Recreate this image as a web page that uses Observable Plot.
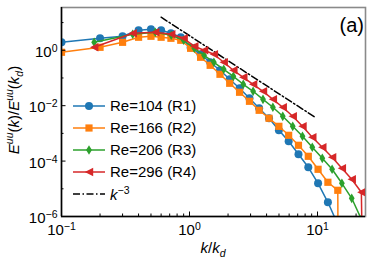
<!DOCTYPE html>
<html><head><meta charset="utf-8">
<script src="https://cdn.jsdelivr.net/npm/d3@7"></script>
<script src="https://cdn.jsdelivr.net/npm/@observablehq/plot@0.6"></script>
<style>html,body{margin:0;padding:0;background:#fff;} #chart{width:374px;height:266px;}</style>
</head><body><div id="chart"></div>
<script>
// ---- data ----
const xDomain = [0.1, 23.7];
const yDomain = [1e-6, 35];
const xMajor = [0.1, 1, 10];
const xMinor = [0.2,0.3,0.4,0.5,0.6,0.7,0.8,0.9,2,3,4,5,6,7,8,9,20];
const yMajor = [1e-6, 1e-4, 1e-2, 1];
const yMinor = [1e-5, 1e-3, 1e-1, 10];
const xTickLabels = ["10^−1", "10^0", "10^1"];
const yTickLabels = ["10^−6", "10^−4", "10^−2", "10^0"];

const seriesNames = ["Re=104 (R1)", "Re=166 (R2)", "Re=206 (R3)", "Re=296 (R4)"];
const seriesColors = ["#1f77b4", "#ff7f0e", "#2ca02c", "#d62728"];

const kBlue = [0.1,0.2,0.3,0.4,0.5,0.6,0.716,0.854,1.02,1.22,1.45,1.73,2.06,2.46,2.94,3.5,4.18,4.99,5.95,7.1,8.47,10.1,12.05,14.4];
const eBlue = [1.94,2.71,3.2,5.27,5.73,5.27,4.11,2.95,1.25,0.717,0.369,0.19,0.0897,0.0425,0.0185,0.00805,0.00351,0.00129,0.000519,0.000176,5.97e-5,1.58e-5,3.26e-6,5.2e-7];

const kOrange = [0.1,0.2,0.3,0.4,0.5,0.6,0.716,0.854,1.02,1.22,1.45,1.73,2.06,2.46,2.94,3.5,4.18,4.99,5.95,7.1,8.47,10.1,12.05,14.4,14.6];
const eOrange = [0.847,1.28,1.94,2.95,3.2,2.95,2.71,2.3,1.18,0.559,0.287,0.136,0.0644,0.0305,0.0144,0.00682,0.00351,0.0018,0.000853,0.000372,0.000149,5.06e-5,1.72e-5,8.83e-6,1e-12];

const kGreen = [0.18,0.36,0.54,0.72,0.9,1.09,1.3,1.55,1.85,2.2,2.63,3.14,3.75,4.48,5.35,6.4,7.63,9.1,10.9,13.0,15.5,18.5,22];
const eGreen = [1.94,3.78,4.47,3.48,2.3,1.18,0.66,0.369,0.206,0.115,0.0593,0.0331,0.017,0.00875,0.00414,0.0018,0.000786,0.000315,0.000126,5.06e-5,1.58e-5,4.54e-6,8e-7];

const kRed = [0.18,0.36,0.54,0.72,0.9,1.09,1.3,1.55,1.85,2.2,2.63,3.14,3.75,4.48,5.35,6.4,7.63,9.1,10.9,13.0,15.5,18.5,22,23.2];
const eRed = [1.28,4.11,4.47,3.78,2.71,1.39,1.0,0.717,0.369,0.19,0.106,0.0593,0.0331,0.017,0.00875,0.00414,0.0018,0.000723,0.000315,0.000137,5.5e-5,2.2e-5,7.48e-6,1e-12];

const refK = [0.6, 9.5];
const refE = [15.6, 0.0039];

// ---- symbols ----
const triLeft = {draw(ctx, size){ const h = Math.sqrt(size/Math.PI); ctx.moveTo(-h,0); ctx.lineTo(h,-h); ctx.lineTo(h,h); ctx.closePath(); }};
const thinDiamond = {draw(ctx, size){ const h = Math.sqrt(size/Math.PI)*1.15; ctx.moveTo(0,-h); ctx.lineTo(h*0.6,0); ctx.lineTo(0,h); ctx.lineTo(-h*0.6,0); ctx.closePath(); }};
const squareSym = {draw(ctx, size){ const h = Math.sqrt(size/Math.PI)*0.9; ctx.rect(-h,-h,2*h,2*h); }};
const circleSym = {draw(ctx, size){ const h = Math.sqrt(size/Math.PI); ctx.moveTo(h,0); ctx.arc(0,0,h,0,2*Math.PI); }};
const symbols = [circleSym, squareSym, thinDiamond, triLeft];
const radii = [4, 4, 4.2, 4.2];

const series = [[kBlue,eBlue],[kOrange,eOrange],[kGreen,eGreen],[kRed,eRed]].map(([k,e],i)=>k.map((kk,j)=>({k:kk,e:e[j],s:i})));
const ref = refK.map((k,i)=>({k, e: refE[i]}));

const marks = [Plot.frame({stroke:"#8a8a8a", strokeWidth: 1.6})];
marks.push(Plot.line(ref, {x:"k", y:"e", stroke:"black", strokeWidth:1.5, strokeDasharray:"7,2.5,1.5,2.5", clip:true}));
series.forEach((d,i)=>{
  marks.push(Plot.line(d, {x:"k", y:"e", stroke: seriesColors[i], strokeWidth:1.5, clip:true}));
  marks.push(Plot.dot(d, {x:"k", y:"e", fill: seriesColors[i], stroke: "none", symbol: symbols[i], r: radii[i], clip:true}));
});
marks.push(Plot.ruleX([xDomain[0]], {stroke:"black", strokeWidth:1.5}));
marks.push(Plot.ruleY([yDomain[0]], {stroke:"black", strokeWidth:1.5}));
marks.push(Plot.axisX({ticks: xMajor, tickSize: -4.5, tickFormat: () => "", label: null}));
marks.push(Plot.axisX({ticks: xMinor, tickSize: -2.5, tickFormat: () => "", label: null}));
marks.push(Plot.axisY({ticks: yMajor, tickSize: -4.5, tickFormat: () => "", label: null}));
marks.push(Plot.axisY({ticks: yMinor, tickSize: -2.5, tickFormat: () => "", label: null}));
marks.push(Plot.axisX({ticks: xMajor, tickSize: 0, tickPadding: 8, tickFormat: d => xTickLabels[xMajor.indexOf(d)], label: null}));
marks.push(Plot.axisY({ticks: yMajor, tickSize: 0, tickPadding: 4, dy: 2, tickFormat: d => yTickLabels[yMajor.indexOf(d)], label: null}));

const svg = Plot.plot({
  width: 374, height: 266,
  marginLeft: 61, marginRight: 9, marginTop: 7, marginBottom: 50,
  x: {type: "log", domain: xDomain},
  y: {type: "log", domain: yDomain},
  style: {fontFamily: "'Liberation Sans', Arial, sans-serif", fontSize: "15px", background: "white", color: "black", overflow: "visible"},
  marks
});
document.getElementById("chart").appendChild(svg);

const NS = "http://www.w3.org/2000/svg";
// superscripts in tick labels
svg.querySelectorAll("text").forEach(t => {
  const s = t.textContent; const i = s.indexOf("^");
  if (i < 0) return;
  t.textContent = "";
  const a = document.createElementNS(NS, "tspan"); a.textContent = s.slice(0, i); t.appendChild(a);
  const b = document.createElementNS(NS, "tspan"); b.textContent = s.slice(i+1);
  b.setAttribute("dy", "-0.5em"); b.setAttribute("font-size", "10.5px"); t.appendChild(b);
});

function rich(parent, parts, attrs) {
  const t = document.createElementNS(NS, "text");
  for (const k in attrs) t.setAttribute(k, attrs[k]);
  let cur = 0;
  parts.forEach(p => {
    const sp = document.createElementNS(NS, "tspan");
    sp.textContent = p.t;
    const shift = p.sup ? -6 : p.sub ? 4 : 0;
    if (shift !== cur) { sp.setAttribute("dy", shift - cur); cur = shift; }
    if (p.sup || p.sub) sp.setAttribute("font-size", "10.5px");
    if (p.it) sp.setAttribute("font-style", "italic");
    t.appendChild(sp);
  });
  parent.appendChild(t);
  return t;
}

const g = d3.select(svg).append("g").attr("font-family", "'Liberation Sans', Arial, sans-serif").attr("font-size", 15).attr("fill", "black").attr("text-anchor", "start");
// axis titles
rich(g.node(), [{t:"E",it:1},{t:"uu",it:1,sup:1},{t:"(",},{t:"k",it:1},{t:")/"},{t:"E",it:1},{t:"uu",it:1,sup:1},{t:"("},{t:"k",it:1},{t:"d",it:1,sub:1},{t:")"}],
  {"text-anchor":"middle", transform:"translate(19,110) rotate(-90)"});
rich(g.node(), [{t:"k",it:1},{t:"/"},{t:"k",it:1},{t:"d",it:1,sub:1}], {"text-anchor":"middle", x:213, y:253});
g.append("text").attr("x", 364).attr("y", 32).attr("text-anchor", "end").attr("font-size", 20).text("(a)");

// legend
const rowY = [106, 128, 150, 172, 194];
seriesNames.forEach((name, i) => {
  const y = rowY[i];
  g.append("line").attr("x1", 73).attr("x2", 105).attr("y1", y).attr("y2", y).attr("stroke", seriesColors[i]).attr("stroke-width", 1.5);
  g.append("path").attr("transform", `translate(89,${y})`).attr("fill", seriesColors[i])
    .attr("d", d3.symbol().type(symbols[i]).size(Math.PI * radii[i] * radii[i])());
  g.append("text").attr("x", 110).attr("y", y).attr("dy", "0.36em").attr("text-anchor", "start").text(name);
});
g.append("line").attr("x1", 73).attr("x2", 105).attr("y1", rowY[4]).attr("y2", rowY[4]).attr("stroke", "black").attr("stroke-width", 1.5).attr("stroke-dasharray", "7,2.5,1.5,2.5");
rich(g.node(), [{t:"k",it:1},{t:"−3",sup:1}], {x:110, y: rowY[4] + 5.5, "text-anchor":"start"});
</script></body></html>
